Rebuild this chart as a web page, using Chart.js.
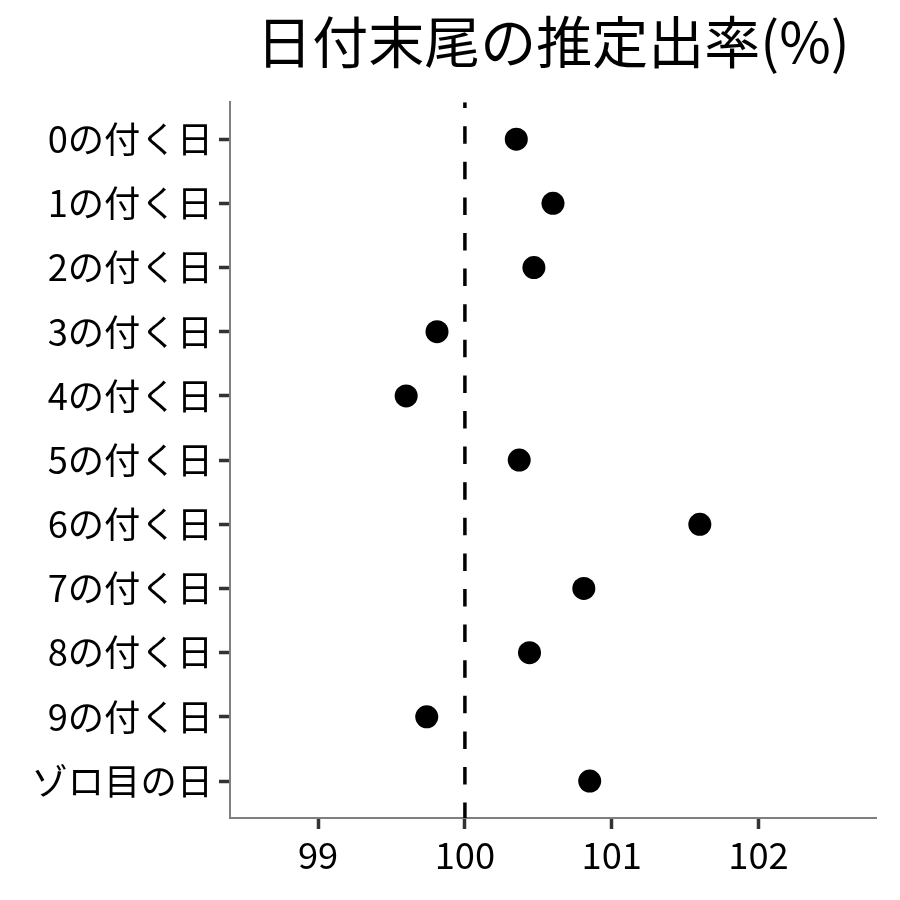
<!DOCTYPE html>
<html>
<head>
<meta charset="utf-8">
<script src="https://cdn.jsdelivr.net/npm/chart.js@4.4.1/dist/chart.umd.min.js"></script>
<style>
html,body{margin:0;padding:0;background:#fff;}
#wrap{width:900px;height:900px;}
</style>
</head>
<body>
<div id="wrap"><canvas id="c" width="900" height="900"></canvas></div>
<script>
const categories = ["0の付く日","1の付く日","2の付く日","3の付く日","4の付く日","5の付く日","6の付く日","7の付く日","8の付く日","9の付く日","ゾロ目の日"];
const rates = [100.35, 100.60, 100.47, 99.81, 99.60, 100.37, 101.60, 100.81, 100.44, 99.74, 100.85];
const xTicks = [99, 100, 101, 102];
const referenceRate = 100;
const titleText = "日付末尾の推定出率(%)";

const FONT = "'Noto Sans CJK JP', 'Noto Sans', sans-serif";
const yMin = -0.576, yMax = categories.length - 1 + 0.576;

const points = rates.map((v, i) => ({x: v, y: i}));

new Chart(document.getElementById('c'), {
  type: 'scatter',
  data: {
    datasets: [
      {
        type: 'line',
        data: [{x: referenceRate, y: yMin}, {x: referenceRate, y: yMax}],
        borderColor: '#000',
        borderWidth: 3.5,
        borderDash: [17.5, 18.1],
        borderDashOffset: 11.6,
        pointRadius: 0,
        fill: false,
        order: 2
      },
      {
        data: points,
        backgroundColor: '#000',
        borderWidth: 0,
        pointRadius: 11.5,
        pointHoverRadius: 11.5,
        order: 1
      }
    ]
  },
  options: {
    responsive: false,
    animation: false,
    events: [],
    layout: {padding: {left: 0, right: 24, top: 0, bottom: 0}},
    plugins: {
      legend: {display: false},
      tooltip: {enabled: false},
      title: {
        display: true,
        text: titleText,
        fullSize: false,
        color: '#000',
        font: {family: FONT, size: 56, weight: 'normal'},
        padding: {top: 8, bottom: 27}
      }
    },
    scales: {
      x: {
        type: 'linear',
        min: 98.4,
        max: 102.8,
        afterFit: s => { s.height = 82; },
        afterBuildTicks: s => { s.ticks = xTicks.map(v => ({value: v})); },
        ticks: {
          includeBounds: false,
          color: '#000',
          font: {family: FONT, size: 36.3},
          padding: 4,
          maxRotation: 0
        },
        grid: {display: true, drawOnChartArea: false, drawTicks: true, tickLength: 11, tickColor: '#333', tickWidth: 3.5},
        border: {display: true, color: '#7f7f7f', width: 2}
      },
      y: {
        type: 'linear',
        reverse: true,
        min: yMin,
        max: yMax,
        afterFit: s => { s.width = 230; },
        afterBuildTicks: s => { s.ticks = categories.map((c, i) => ({value: i})); },
        ticks: {
          includeBounds: false,
          color: '#000',
          font: {family: FONT, size: 36.3},
          padding: 6,
          callback: v => categories[v]
        },
        grid: {display: true, drawOnChartArea: false, drawTicks: true, tickLength: 11, tickColor: '#333', tickWidth: 3.5},
        border: {display: true, color: '#7f7f7f', width: 2}
      }
    }
  }
});
</script>
</body>
</html>
